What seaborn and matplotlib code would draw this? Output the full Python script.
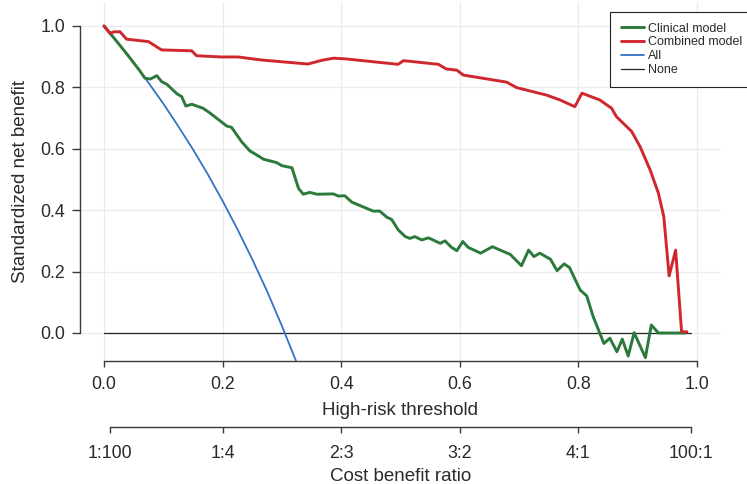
import matplotlib
matplotlib.use('Agg')
import matplotlib.pyplot as plt
import seaborn as sns

# Decision curve data
thr_clinical = [0.000, 0.020, 0.040, 0.060, 0.069, 0.078, 0.089, 0.097, 0.106, 0.123,
                0.131, 0.138, 0.148, 0.167, 0.179, 0.207, 0.215, 0.232, 0.246, 0.260,
                0.269, 0.291, 0.300, 0.317, 0.328, 0.336, 0.347, 0.359, 0.387, 0.395,
                0.406, 0.418, 0.454, 0.465, 0.477, 0.485, 0.496, 0.508, 0.516, 0.524,
                0.536, 0.547, 0.567, 0.575, 0.586, 0.595, 0.605, 0.614, 0.635, 0.655,
                0.685, 0.704, 0.716, 0.725, 0.735, 0.753, 0.764, 0.776, 0.785, 0.803,
                0.814, 0.825, 0.843, 0.853, 0.865, 0.874, 0.884, 0.894, 0.913, 0.923,
                0.935, 0.974, 0.980]
nb_clinical = [1.000, 0.953, 0.905, 0.855, 0.830, 0.827, 0.838, 0.819, 0.810, 0.779,
               0.770, 0.739, 0.745, 0.732, 0.716, 0.674, 0.670, 0.623, 0.593, 0.577,
               0.566, 0.555, 0.545, 0.538, 0.471, 0.452, 0.458, 0.452, 0.453, 0.446,
               0.447, 0.426, 0.397, 0.397, 0.377, 0.370, 0.336, 0.314, 0.308, 0.314,
               0.303, 0.310, 0.292, 0.300, 0.279, 0.268, 0.298, 0.279, 0.260, 0.281,
               0.256, 0.219, 0.270, 0.249, 0.260, 0.240, 0.203, 0.225, 0.213, 0.140,
               0.121, 0.053, -0.034, -0.017, -0.061, -0.020, -0.075, 0.001, -0.080, 0.026,
               0.000, 0.000, 0.000]

thr_combined = [0.000, 0.010, 0.017, 0.027, 0.038, 0.075, 0.097, 0.148, 0.156, 0.198,
                0.226, 0.266, 0.344, 0.367, 0.387, 0.406, 0.496, 0.505, 0.564, 0.577,
                0.595, 0.606, 0.679, 0.696, 0.746, 0.769, 0.794, 0.806, 0.836, 0.856,
                0.864, 0.890, 0.904, 0.921, 0.935, 0.944, 0.953, 0.964, 0.974, 0.983]
nb_combined = [1.000, 0.976, 0.981, 0.981, 0.957, 0.949, 0.922, 0.919, 0.903, 0.899,
               0.899, 0.889, 0.876, 0.888, 0.895, 0.893, 0.875, 0.887, 0.875, 0.860,
               0.856, 0.840, 0.817, 0.799, 0.775, 0.759, 0.737, 0.781, 0.759, 0.732,
               0.705, 0.656, 0.607, 0.531, 0.455, 0.379, 0.186, 0.270, 0.004, 0.004]

thr_all = [0.000, 0.025, 0.050, 0.075, 0.100, 0.125, 0.150, 0.175, 0.200, 0.225,
           0.250, 0.275, 0.300, 0.325]
nb_all = [1.000, 0.942, 0.880, 0.815, 0.747, 0.674, 0.598, 0.517, 0.430, 0.338,
          0.240, 0.136, 0.023, -0.097]

thr_none = [0.0, 0.99]
nb_none = [0.0, 0.0]

x_ticks = [0.0, 0.2, 0.4, 0.6, 0.8, 1.0]
y_ticks = [0.0, 0.2, 0.4, 0.6, 0.8, 1.0]
cb_ticks = [1 / 101, 0.2, 0.4, 0.6, 0.8, 100 / 101]
cb_labels = ['1:100', '1:4', '2:3', '3:2', '4:1', '100:1']

sns.set_theme(style='whitegrid')
plt.rcParams['font.family'] = ['Liberation Sans', 'DejaVu Sans']

ink = '#2a2a2a'
fig = plt.figure(figsize=(7.47, 4.84), dpi=100)
ax = fig.add_axes([80 / 747, (484 - 361) / 484, (721 - 80) / 747, (361 - 2) / 484])

sns.lineplot(x=thr_none, y=nb_none, color='#222222', lw=0.9, label='None',
             estimator=None, sort=False, ax=ax, zorder=2)
sns.lineplot(x=thr_all, y=nb_all, color='#3572c6', lw=1.3, label='All',
             estimator=None, sort=False, ax=ax, zorder=3)
sns.lineplot(x=thr_clinical, y=nb_clinical, color='#2b7a3b', lw=2.1, label='Clinical model',
             estimator=None, sort=False, ax=ax, zorder=4)
sns.lineplot(x=thr_combined, y=nb_combined, color='#d0262e', lw=2.1, label='Combined model',
             estimator=None, sort=False, ax=ax, zorder=5)

ax.set_xlim(-0.0405, 1.0405)
ax.set_ylim(-0.0912, 1.078)
ax.set_xticks(x_ticks)
ax.set_xticklabels([f'{v:.1f}' for v in x_ticks])
ax.set_yticks(y_ticks)
ax.set_yticklabels([f'{v:.1f}' for v in y_ticks])
ax.grid(True, color='#ebebeb', lw=0.9)
ax.set_facecolor('white')

for side in ['top', 'right']:
    ax.spines[side].set_visible(False)
for side in ['left', 'bottom']:
    ax.spines[side].set_color('#3a3a3a')
    ax.spines[side].set_linewidth(1.0)
ax.spines['left'].set_bounds(0, 1)
ax.spines['bottom'].set_bounds(0, 1)

ax.tick_params(axis='x', bottom=True, length=4, width=1.0, color='#3a3a3a',
               pad=7, labelsize=12.8, labelcolor=ink)
ax.tick_params(axis='y', left=True, length=5.5, width=1.0, color='#3a3a3a',
               pad=5, labelsize=12.8, labelcolor=ink)
ax.set_xlabel('High-risk threshold', fontsize=13.5, color=ink, labelpad=6.5)
ax.set_ylabel('Standardized net benefit', fontsize=13.5, color=ink, labelpad=8)

# cost benefit ratio axis below the threshold axis
sec = ax.secondary_xaxis(-(427 - 361) / 359)
sec.set_xticks(cb_ticks)
sec.set_xticklabels(cb_labels)
sec.spines['bottom'].set_bounds(1 / 101, 100 / 101)
sec.spines['bottom'].set_color('#3a3a3a')
sec.spines['bottom'].set_linewidth(1.0)
sec.tick_params(axis='x', bottom=True, length=4, width=1.0, color='#3a3a3a',
                pad=9, labelsize=12.8, labelcolor=ink)
sec.grid(False)
sec.set_xlabel('Cost benefit ratio', fontsize=13.5, color=ink, labelpad=4.5)

handles, labels = ax.get_legend_handles_labels()
order = [labels.index(n) for n in ['Clinical model', 'Combined model', 'All', 'None']]
leg = ax.legend([handles[i] for i in order], [labels[i] for i in order],
                loc='upper left', bbox_to_anchor=(610 / 747, 1 - 12 / 484),
                bbox_transform=fig.transFigure, fontsize=9, frameon=True,
                fancybox=False, framealpha=1, edgecolor='#222222',
                borderpad=0.85, handlelength=1.9, handletextpad=0.3,
                labelspacing=0.14, borderaxespad=0)
leg.get_frame().set_linewidth(0.8)
for t in leg.get_texts():
    t.set_color(ink)

fig.savefig('out.png', dpi=100)
plt.close(fig)
